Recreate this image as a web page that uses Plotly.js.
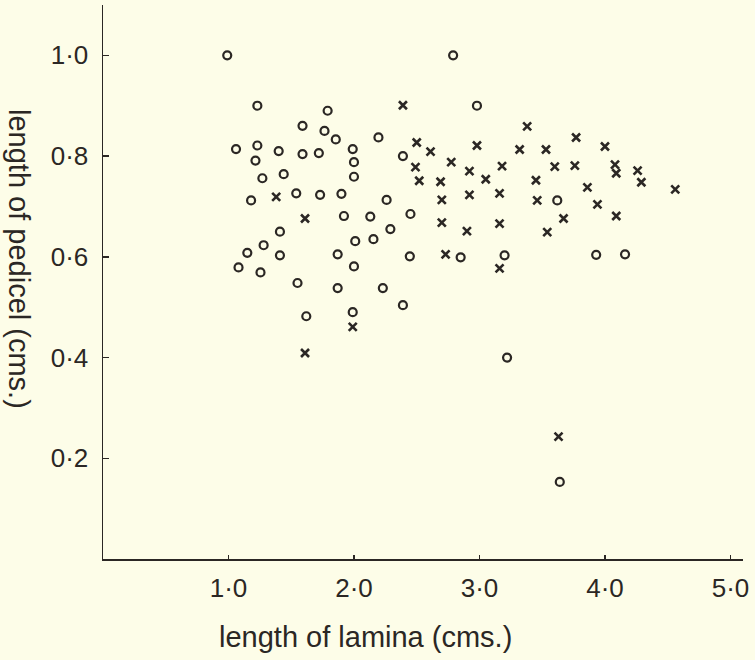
<!DOCTYPE html>
<html>
<head>
<meta charset="utf-8">
<script src="https://cdn.plot.ly/plotly-3.0.1.min.js"></script>
<style>
html,body{margin:0;padding:0;background:#fdfde8;}
#chart{width:755px;height:660px;}
</style>
</head>
<body>
<div id="chart"></div>
<script>
// open circles
const circleLamina = [0.99, 2.79, 1.23, 2.98, 1.79, 1.59, 1.765, 1.855, 2.195, 1.06, 1.23, 1.40, 1.59, 1.72, 1.99, 1.215, 2.00, 2.39, 1.27, 1.44, 2.00, 1.18, 1.54, 1.73, 1.90, 2.26, 1.92, 2.13, 2.45, 1.41, 2.29, 2.01, 2.155, 1.28, 1.15, 1.41, 1.87, 2.445, 2.85, 3.20, 3.93, 4.16, 3.62, 1.08, 1.255, 2.00, 1.55, 1.87, 2.23, 2.39, 1.62, 1.99, 3.22, 3.64];
const circlePedicel = [1.00, 1.00, 0.90, 0.90, 0.89, 0.86, 0.85, 0.833, 0.837, 0.814, 0.821, 0.810, 0.804, 0.806, 0.814, 0.791, 0.788, 0.800, 0.756, 0.764, 0.759, 0.712, 0.726, 0.723, 0.725, 0.713, 0.681, 0.680, 0.685, 0.650, 0.655, 0.631, 0.635, 0.623, 0.608, 0.603, 0.605, 0.601, 0.599, 0.603, 0.604, 0.605, 0.712, 0.579, 0.569, 0.581, 0.548, 0.538, 0.538, 0.504, 0.482, 0.490, 0.400, 0.153];
// crosses
const crossLamina = [1.38, 1.61, 1.99, 1.61, 2.39, 3.38, 2.50, 2.61, 2.98, 3.32, 3.53, 2.49, 2.775, 2.92, 3.18, 2.52, 2.69, 3.05, 3.45, 2.70, 2.92, 3.16, 3.46, 2.70, 2.90, 3.16, 3.54, 2.73, 3.16, 3.77, 4.00, 3.60, 3.76, 4.08, 4.09, 4.26, 4.29, 4.56, 3.86, 3.94, 3.67, 4.09, 3.63];
const crossPedicel = [0.719, 0.676, 0.461, 0.409, 0.901, 0.859, 0.827, 0.809, 0.821, 0.813, 0.813, 0.778, 0.788, 0.770, 0.780, 0.751, 0.749, 0.754, 0.752, 0.713, 0.723, 0.726, 0.712, 0.668, 0.651, 0.666, 0.649, 0.605, 0.577, 0.837, 0.819, 0.779, 0.781, 0.783, 0.766, 0.771, 0.748, 0.734, 0.738, 0.704, 0.676, 0.681, 0.243];

const xTickVals = [1, 2, 3, 4, 5];
const xTickText = ["1·0", "2·0", "3·0", "4·0", "5·0"];
const yTickVals = [0.2, 0.4, 0.6, 0.8, 1.0];
const yTickText = ["0·2", "0·4", "0·6", "0·8", "1·0"];

const ink = '#2b2724';
const fontFam = '"Liberation Sans", Arial, sans-serif';

const traces = [
  {x: circleLamina, y: circlePedicel, type: 'scatter', mode: 'markers',
   marker: {symbol: 'circle-open', size: 8, color: ink, line: {width: 2.2, color: ink}}},
  {x: crossLamina, y: crossPedicel, type: 'scatter', mode: 'markers',
   marker: {symbol: 'x-thin-open', size: 8, color: ink, line: {width: 2.6, color: ink}}}
];

const layout = {
  width: 755, height: 660,
  margin: {l: 103, r: 12, t: 5, b: 101},
  paper_bgcolor: '#fdfde8', plot_bgcolor: '#fdfde8',
  showlegend: false,
  font: {family: fontFam, color: ink},
  xaxis: {range: [0, 5.1], showgrid: false, zeroline: false, showline: true,
    linecolor: ink, linewidth: 1.5, ticks: 'inside', ticklen: 4, tickwidth: 1.5, tickcolor: ink,
    tickvals: xTickVals, ticktext: xTickText, tickfont: {size: 26, color: ink}, ticklabelstandoff: 5},
  yaxis: {range: [0, 1.1], showgrid: false, zeroline: false, showline: true,
    linecolor: ink, linewidth: 1.5, ticks: 'inside', ticklen: 6, tickwidth: 1.5, tickcolor: ink,
    tickvals: yTickVals, ticktext: yTickText, tickfont: {size: 26, color: ink}, ticklabelstandoff: 8},
  annotations: [
    {text: 'length of lamina (cms.)', xref: 'paper', yref: 'paper', x: (365-103)/640, y: -(637-559)/554,
     xanchor: 'center', yanchor: 'middle', showarrow: false, font: {size: 29, color: ink}},
    {text: 'length of pedicel (cms.)', xref: 'paper', yref: 'paper', x: -(103-19)/640, y: (559-259)/554,
     xanchor: 'center', yanchor: 'middle', textangle: 90, showarrow: false, font: {size: 29, color: ink}}
  ]
};

Plotly.newPlot('chart', traces, layout, {displayModeBar: false, staticPlot: true});
</script>
</body>
</html>
